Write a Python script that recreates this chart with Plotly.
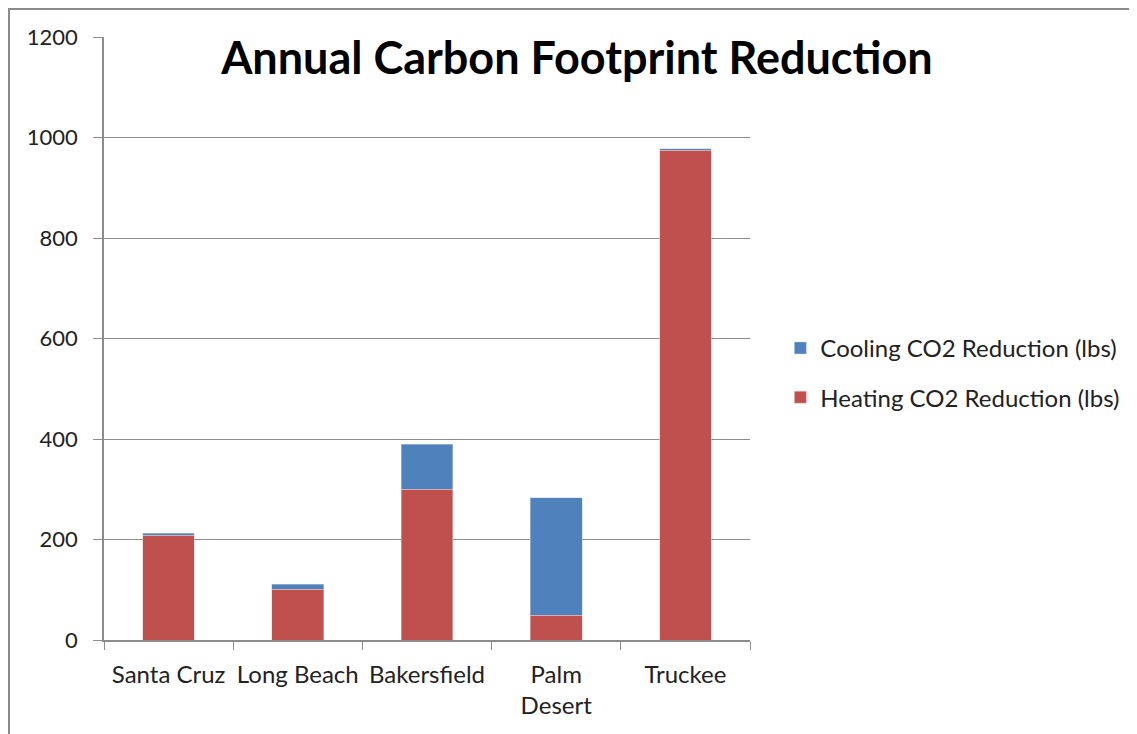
import plotly.graph_objects as go

categories = ["Santa Cruz", "Long Beach", "Bakersfield", "Palm<br>Desert", "Truckee"]
heating = [208, 101, 300, 49, 975]
cooling = [4, 10, 90, 234, 3]
y_ticks = [0, 200, 400, 600, 800, 1000, 1200]

FONT = "Lato"
GRID = "#8c8c8c"

fig = go.Figure()
fig.add_trace(go.Bar(x=categories, y=heating, name="Heating CO2 Reduction (lbs)",
                     legendgroup="h", legendrank=2,
                     marker=dict(color="#C0504D", line=dict(color="#e8c8c8", width=0.5)), width=0.4))
fig.add_trace(go.Bar(x=categories, y=cooling, name="Cooling CO2 Reduction (lbs)",
                     legendgroup="c", legendrank=1,
                     marker=dict(color="#4F81BD", line=dict(color="#c8d4e8", width=0.5)), width=0.4))

fig.update_layout(
    barmode="stack",
    width=1137, height=734,
    margin=dict(l=96, r=395, t=29, b=102, autoexpand=False),
    paper_bgcolor="white", plot_bgcolor="white",
    font=dict(family=FONT, size=24, color="#222222"),
    title=dict(text="<b>Annual Carbon Footprint Reduction</b>", x=0.5004, xref="container",
               xanchor="center", y=0.931, yanchor="middle",
               font=dict(family=FONT, size=45, color="black")),
    legend=dict(x=1.047, y=0.443, xanchor="left", yanchor="middle",
                traceorder="grouped", font=dict(size=24), itemwidth=30, tracegroupgap=15,
                bgcolor="rgba(0,0,0,0)"),
    showlegend=True,
)
fig.update_xaxes(type="category", tickson="boundaries", ticks="outside", ticklen=8,
                 tickcolor=GRID, showline=True, linecolor=GRID, linewidth=1.5,
                 showgrid=False, tickfont=dict(size=24), ticklabelstandoff=12,
                 tickangle=0, automargin=False)
fig.update_yaxes(range=[0, 1200], tickvals=y_ticks, ticks="outside", ticklen=9,
                 tickcolor=GRID, showline=True, linecolor=GRID, linewidth=1.5,
                 showgrid=True, gridcolor=GRID, gridwidth=1, zeroline=False,
                 tickfont=dict(size=22), ticklabelstandoff=11, automargin=False)
fig.add_shape(type="rect", xref="paper", yref="paper",
              x0=-0.1471, y0=-0.3, x1=1.7, y1=1.0464,
              line=dict(color="#8a8a8a", width=2), fillcolor="rgba(0,0,0,0)", layer="below")

fig.write_html("out.html")
